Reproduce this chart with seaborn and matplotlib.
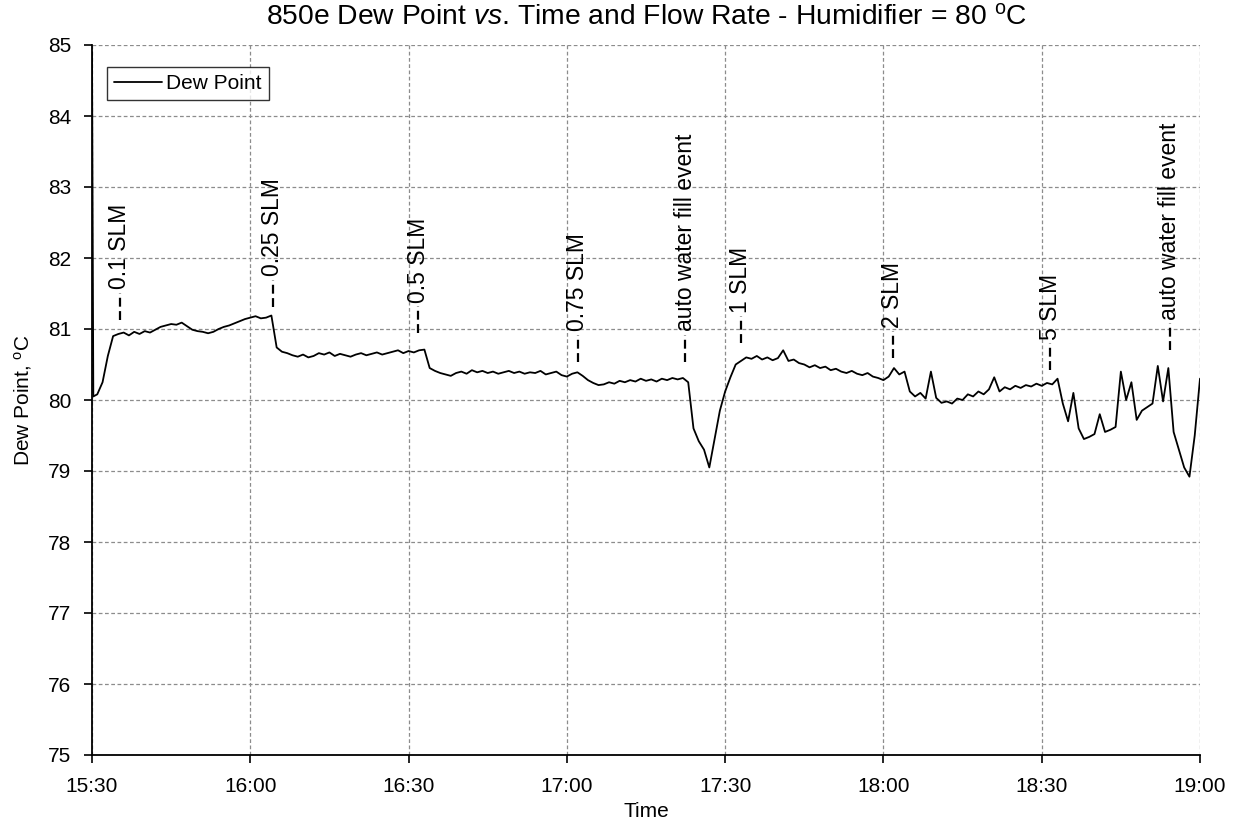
import numpy as np
import pandas as pd
import matplotlib
matplotlib.use("Agg")
import matplotlib.pyplot as plt
import matplotlib.dates as mdates
import seaborn as sns

# ---- data ----
minutes = [0, 0.25] + list(range(1, 211))
dew_point = [84.9, 80.05,
             80.08, 80.25, 80.62, 80.90, 80.93, 80.95, 80.91, 80.96, 80.93, 80.97,
             80.95, 80.99, 81.03, 81.05, 81.07, 81.06, 81.09, 81.04, 80.99, 80.97,
             80.96, 80.94, 80.96, 81.00, 81.03, 81.05, 81.08, 81.11, 81.14, 81.16,
             81.18, 81.15, 81.16, 81.19, 80.74, 80.68, 80.66, 80.63, 80.61, 80.64,
             80.60, 80.62, 80.66, 80.64, 80.67, 80.62, 80.65, 80.63, 80.61, 80.64,
             80.66, 80.63, 80.65, 80.67, 80.64, 80.66, 80.68, 80.70, 80.66, 80.69,
             80.67, 80.70, 80.71, 80.45, 80.41, 80.38, 80.36, 80.34, 80.38, 80.40,
             80.37, 80.42, 80.39, 80.41, 80.38, 80.40, 80.37, 80.39, 80.41, 80.38,
             80.40, 80.37, 80.39, 80.38, 80.41, 80.36, 80.38, 80.40, 80.35, 80.33,
             80.37, 80.39, 80.34, 80.28, 80.24, 80.21, 80.22, 80.25, 80.23, 80.27,
             80.25, 80.28, 80.26, 80.30, 80.27, 80.29, 80.26, 80.30, 80.28, 80.31,
             80.29, 80.31, 80.25, 79.60, 79.42, 79.30, 79.05, 79.45, 79.85, 80.12,
             80.32, 80.50, 80.55, 80.60, 80.58, 80.62, 80.57, 80.60, 80.56, 80.59,
             80.70, 80.55, 80.57, 80.52, 80.50, 80.46, 80.49, 80.45, 80.47, 80.42,
             80.44, 80.40, 80.38, 80.41, 80.37, 80.35, 80.38, 80.33, 80.31, 80.28,
             80.33, 80.45, 80.36, 80.40, 80.12, 80.05, 80.10, 80.02, 80.40, 80.03,
             79.96, 79.98, 79.95, 80.02, 80.00, 80.08, 80.05, 80.12, 80.08, 80.15,
             80.32, 80.12, 80.18, 80.15, 80.20, 80.17, 80.21, 80.19, 80.23, 80.20,
             80.24, 80.22, 80.30, 79.95, 79.70, 80.10, 79.60, 79.45, 79.48, 79.52,
             79.80, 79.55, 79.58, 79.62, 80.40, 80.00, 80.25, 79.72, 79.85, 79.90,
             79.95, 80.48, 79.98, 80.45, 79.55, 79.30, 79.05, 78.92, 79.50, 80.30]

event_labels = ["0.1 SLM", "0.25 SLM", "0.5 SLM", "0.75 SLM", "auto water fill event",
                "1 SLM", "2 SLM", "5 SLM", "auto water fill event"]
event_minutes = [5.3, 34.3, 61.8, 92.1, 112.4, 123.0, 151.8, 181.6, 204.3]
event_base = [81.13, 81.31, 80.94, 80.54, 80.54, 80.80, 80.59, 80.42, 80.70]

start = pd.Timestamp("2000-01-01 15:30")
df = pd.DataFrame({"Time": start + pd.to_timedelta(minutes, unit="m"),
                   "Dew Point": dew_point})

# ---- style ----
sns.set_style("white")
plt.rcParams["font.family"] = ["Liberation Sans", "DejaVu Sans"]
plt.rcParams["mathtext.fontset"] = "custom"
plt.rcParams["mathtext.rm"] = "Liberation Sans"
plt.rcParams["mathtext.it"] = "Liberation Sans:italic"
for k in ["text.color", "axes.labelcolor", "xtick.color", "ytick.color"]:
    plt.rcParams[k] = "black"

fig = plt.figure(figsize=(12.36, 8.24), dpi=100)
ax = fig.add_axes([92/1236, 69/824, 1108/1236, 710/824])

sns.lineplot(data=df, x="Time", y="Dew Point", ax=ax, color="black",
             linewidth=1.3, label="Dew Point", estimator=None)

ax.set_xlim(start, start + pd.Timedelta(minutes=210))
ax.set_ylim(75, 85)
ax.set_yticks(np.arange(75, 86, 1))
ax.xaxis.set_major_locator(mdates.MinuteLocator(byminute=[0, 30]))
ax.xaxis.set_major_formatter(mdates.DateFormatter("%H:%M"))

ax.grid(True, color="#8c8c8c", linestyle=(0, (3, 2)), linewidth=0.9)
for s in ["top", "right"]:
    ax.spines[s].set_visible(False)
for s in ["left", "bottom"]:
    ax.spines[s].set_color("black")
    ax.spines[s].set_linewidth(1.3)
ax.tick_params(axis="both", which="major", direction="out", length=6, width=1.2,
               color="black", labelcolor="black", labelsize=15, left=True, bottom=True)
ax.tick_params(axis="x", pad=10)
ax.tick_params(axis="y", pad=9)

ax.set_xlabel("Time", fontsize=15, labelpad=4, color="black")
ax.set_ylabel("Dew Point, $^{\\mathrm{o}}$C", fontsize=15, labelpad=10, color="black")
ax.set_title("850e Dew Point $\\mathit{vs}$. Time and Flow Rate - Humidifier = 80 $^{\\mathrm{o}}$C",
             fontsize=20.3, pad=15, color="black")

# annotations: dashed leader + rotated label
for lab, m, yb in zip(event_labels, event_minutes, event_base):
    t = start + pd.Timedelta(minutes=m)
    ax.plot([t, t], [yb, yb + 0.38], color="black", linewidth=1.6,
            linestyle=(0, (4, 2)))
    ax.text(t, yb + 0.43, lab, rotation=90, ha="center", va="bottom",
            fontsize=16.5, color="black")

leg = ax.legend(loc="upper left", bbox_to_anchor=(0.008, 0.978), fontsize=15,
                frameon=True, fancybox=False, handlelength=2.3,
                borderpad=0.35, handletextpad=0.2, borderaxespad=0.3)
leg.get_frame().set_edgecolor("black")
leg.get_frame().set_linewidth(1.0)
for txt in leg.get_texts():
    txt.set_color("black")

fig.savefig("out.png", dpi=100)
